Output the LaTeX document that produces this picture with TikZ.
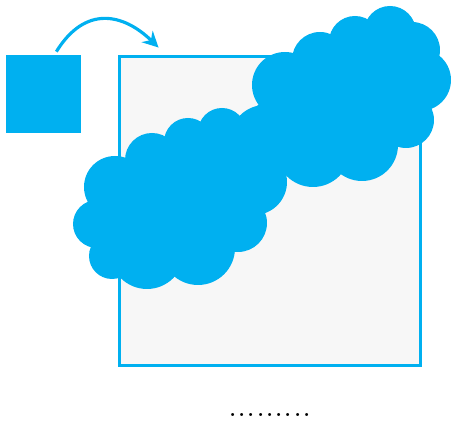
\documentclass[tikz,border=0pt]{standalone}
\usepackage{xcolor}
\usepackage{tikz}
\usetikzlibrary{arrows.meta, calc, positioning}
\definecolor{skyblue}{HTML}{00B0F0}
\definecolor{paper}{HTML}{F7F7F7}
\tikzset{
  blob/.style={fill=skyblue},
  flow/.style={draw=skyblue, line width=1.8pt, -{Stealth[length=9pt, width=9pt]}},
}

\begin{document}
\begin{tikzpicture}[x=0.02cm, y=-0.02cm]
  \useasboundingbox (0,0) rectangle (451,421);
  \node[blob, inner sep=0pt, minimum width=1.5cm, minimum height=1.56cm] (src) at (43.5,94) {};
  \node[draw=skyblue, fill=paper, line width=1.7pt, inner sep=0pt, minimum width=6.04cm, minimum height=6.2cm] (canvas) at (270,211) {};
  \coordinate (flowstart) at ($(src.north east)+(-25,-3)$);
  \coordinate (flowend) at ($(canvas.north west)+(41,-7)$);
  \draw[flow] (flowstart) .. controls ($(flowstart)+(29,-47)$) and ($(flowend)+(-35,-34)$) .. (flowend);
  % lower cloud
  \fill[blob] (115,187) -- (97,224) -- (112,256) -- (147,252) -- (198,248) -- (238,223) -- (254,182) -- (265,140) -- (222,132) -- (188,142) -- (152,160) -- cycle;
  \foreach \cx/\cy/\rad in {115/187/31, 97/224/24, 112/256/23, 147/252/37, 198/248/37, 238/223/29, 254/182/33, 152/160/27, 188/142/24, 222/132/24, 180/200/45, 265/140/35}
    \fill[blob] (\cx,\cy) circle (\rad);
  % upper cloud
  \fill[blob] (285,85) -- (320,60) -- (355,42) -- (390,32) -- (412,50) -- (420,80) -- (406,120) -- (362,145) -- (313,150) -- (254,182) -- (222,132) -- cycle;
  \foreach \cx/\cy/\rad in {285/85/33, 320/60/28, 355/42/26, 390/32/26, 412/50/28, 420/80/31, 406/120/28, 362/145/36, 313/150/37, 350/100/45, 380/80/35}
    \fill[blob] (\cx,\cy) circle (\rad);
  \node[font=\fontsize{21}{25}\selectfont, anchor=base, inner sep=0pt] (more) at (270,417) {.........};
\end{tikzpicture}
\end{document}
